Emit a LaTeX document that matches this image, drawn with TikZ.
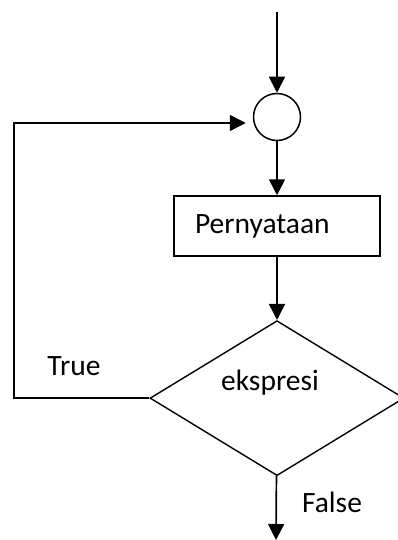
\documentclass[tikz,border=0pt]{standalone}
\usepackage{fontspec}
\setmainfont{Carlito}
\usetikzlibrary{positioning,arrows.meta,shapes.geometric}
\tikzset{
	flowchart/.style={x=1pt,y=-1pt,>={Triangle[length=16pt,width=16pt]},
		line width=1.7pt,font=\fontsize{29.5}{35}\selectfont},
	junction/.style={circle,draw,line width=1.5pt,minimum size=47pt,inner sep=0pt},
	stmtbox/.style={rectangle,draw,minimum width=206pt,minimum height=60pt,
		inner xsep=21pt,text width=164pt,align=left},
	decision/.style={diamond,draw,line width=1.4pt,minimum width=254pt,
		minimum height=155pt,shape aspect=1.64,inner sep=0pt},
	caption/.style={anchor=base,inner sep=0pt}
}

\begin{document}
\begin{tikzpicture}[flowchart]
	\useasboundingbox (0,0) rectangle (398,540);
	
	\coordinate (start) at (277,12);
	\node[junction] (junc) at (277,117) {};
	\node[stmtbox] (stmt) [below=54pt of junc] {Pernyataan};
	\node[decision] (cond) [below=63pt of stmt] {};
	\node[caption] (condtext) at (270,390) {ekspresi};
	\coordinate (stop) at (276,540);
	
	\node[caption] (truelbl) at (74,375) {True};
	\node[caption] (falselbl) at (332,512) {False};
	
	\draw[->] (start) -- (junc);
	\draw[->] (junc) -- (stmt);
	\draw[->] (stmt) -- (cond);
	\draw[->] (cond) -- (stop);
	\draw[->,shorten >=7pt] (cond.west) -- ++(-135,0) |- ([yshift=-6pt]junc.west);
\end{tikzpicture}
\end{document}
